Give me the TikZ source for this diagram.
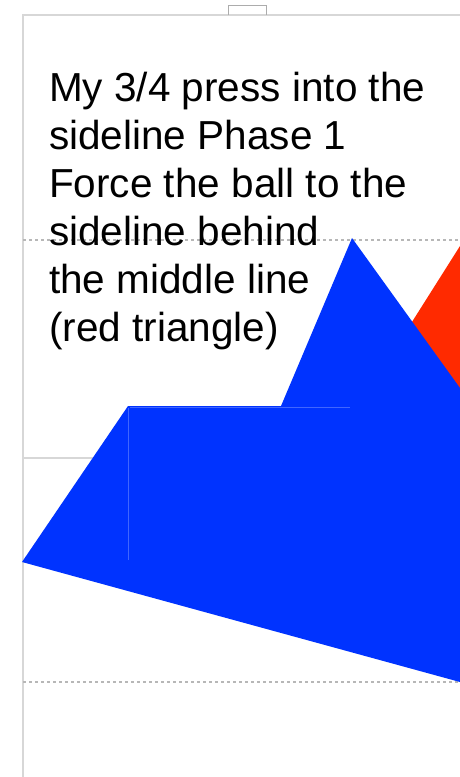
\documentclass[tikz,border=0pt]{standalone}
\usepackage{fontspec}
\setmainfont{Liberation Sans}
\definecolor{pressblue}{RGB}{0,51,255}
\definecolor{pressred}{RGB}{255,42,0}
\definecolor{framegray}{RGB}{215,215,215}
\begin{document}
\begin{tikzpicture}[
  x=1pt, y=-1pt,
  frame/.style={draw=framegray, line width=1.6pt},
  fieldline/.style={draw=framegray!85!black, line width=1.2pt, dash pattern=on 3pt off 3pt},
  zone/.style={line width=0pt},
  note/.style={anchor=north west, inner sep=0pt, align=left, font=\fontsize{40.5}{48}\selectfont}
]
\useasboundingbox (0,0) rectangle (460,777);

% sheet border and tab
\draw[frame] (23,777) -- (23,15) -- (460,15);
\draw[draw=framegray!80!black, line width=1pt] (228,15) -- (228,5) -- (266,5) -- (266,15);

% field lines
\draw[fieldline] (23,240) -- (460,240);
\draw[fieldline] (23,682) -- (460,682);
\draw[frame, line width=1.2pt] (23,458) -- (130,458);

% triangles
\fill[pressred, zone] (460,246) -- (405,333) -- (460,400) -- cycle;
\fill[pressblue, zone] (22,562) -- (128,406) -- (281,406) -- (352,238)
  -- (460,388) -- (460,682) -- cycle;
\draw[pressblue!75!white, line width=0.8pt] (128,408) -- (128,560);
\draw[pressblue!75!white, line width=0.8pt] (130,407) -- (350,407);

\node[note] (caption) at (49,72) {My 3/4 press into the\\sideline Phase 1\\Force the ball to the\\sideline behind\\the middle line\\(red triangle)};
\end{tikzpicture}
\end{document}
